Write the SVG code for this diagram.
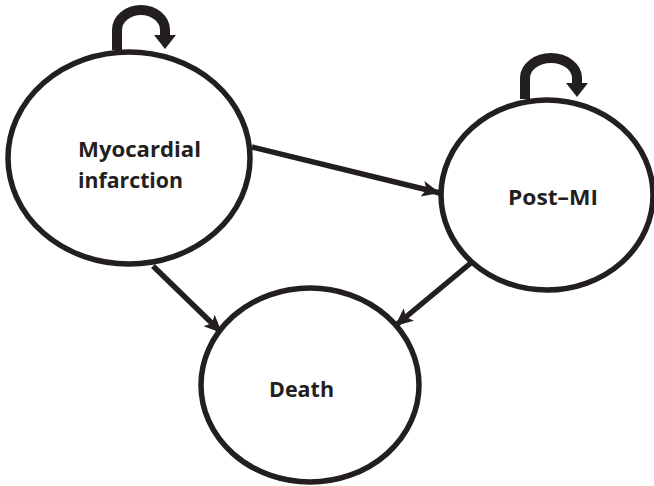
<svg xmlns="http://www.w3.org/2000/svg" width="654" height="486" viewBox="0 0 654 486">
<style>
.node{fill:#fff;stroke:#231f20;stroke-width:5.5}
.lbl{font-family:"Open Sans","Liberation Sans",sans-serif;font-weight:bold;font-size:21px;fill:#231f20}
.edge{fill:none;stroke:#231f20;stroke-width:5.5}
.loop{fill:none;stroke:#231f20;stroke-width:10}
</style>
<defs>
<marker id="ah" markerUnits="userSpaceOnUse" markerWidth="20" markerHeight="20" viewBox="0 0 20 20" refX="18" refY="10" orient="auto">
<path d="M0,2 L18,10 L0,18 L4,10 Z" fill="#231f20"/>
</marker>
<marker id="lh" markerUnits="userSpaceOnUse" markerWidth="22" markerHeight="22" viewBox="0 0 22 22" refX="3" refY="11" orient="auto">
<path d="M0,0 L14,11 L0,22 Z" fill="#231f20"/>
</marker>
</defs>
<g id="connectors">
<path class="edge" d="M252,147 L440,193" marker-end="url(#ah)"/>
<path class="edge" d="M153,266 L222,333" marker-end="url(#ah)"/>
<path class="edge" d="M472,262 L395,326" marker-end="url(#ah)"/>
<path class="loop" d="M117,50 V30 A24,20 0 0 1 165,30 V38" marker-end="url(#lh)"/>
<path class="loop" d="M525,99 V78 A26,20 0 0 1 577,78 V86" marker-end="url(#lh)"/>
</g>
<g id="node-mi">
<ellipse class="node" cx="129" cy="158" rx="121" ry="106"/>
<text class="lbl" x="78" y="157" textLength="123" lengthAdjust="spacingAndGlyphs">Myocardial</text>
<text class="lbl" x="78" y="188" textLength="105" lengthAdjust="spacingAndGlyphs">infarction</text>
</g>
<g id="node-postmi">
<ellipse class="node" cx="547" cy="195" rx="106" ry="95"/>
<text class="lbl" x="508" y="205" textLength="90" lengthAdjust="spacingAndGlyphs">Post–MI</text>
</g>
<g id="node-death">
<ellipse class="node" cx="310" cy="385" rx="109" ry="97"/>
<text class="lbl" x="269" y="397" textLength="65" lengthAdjust="spacingAndGlyphs">Death</text>
</g>
</svg>
